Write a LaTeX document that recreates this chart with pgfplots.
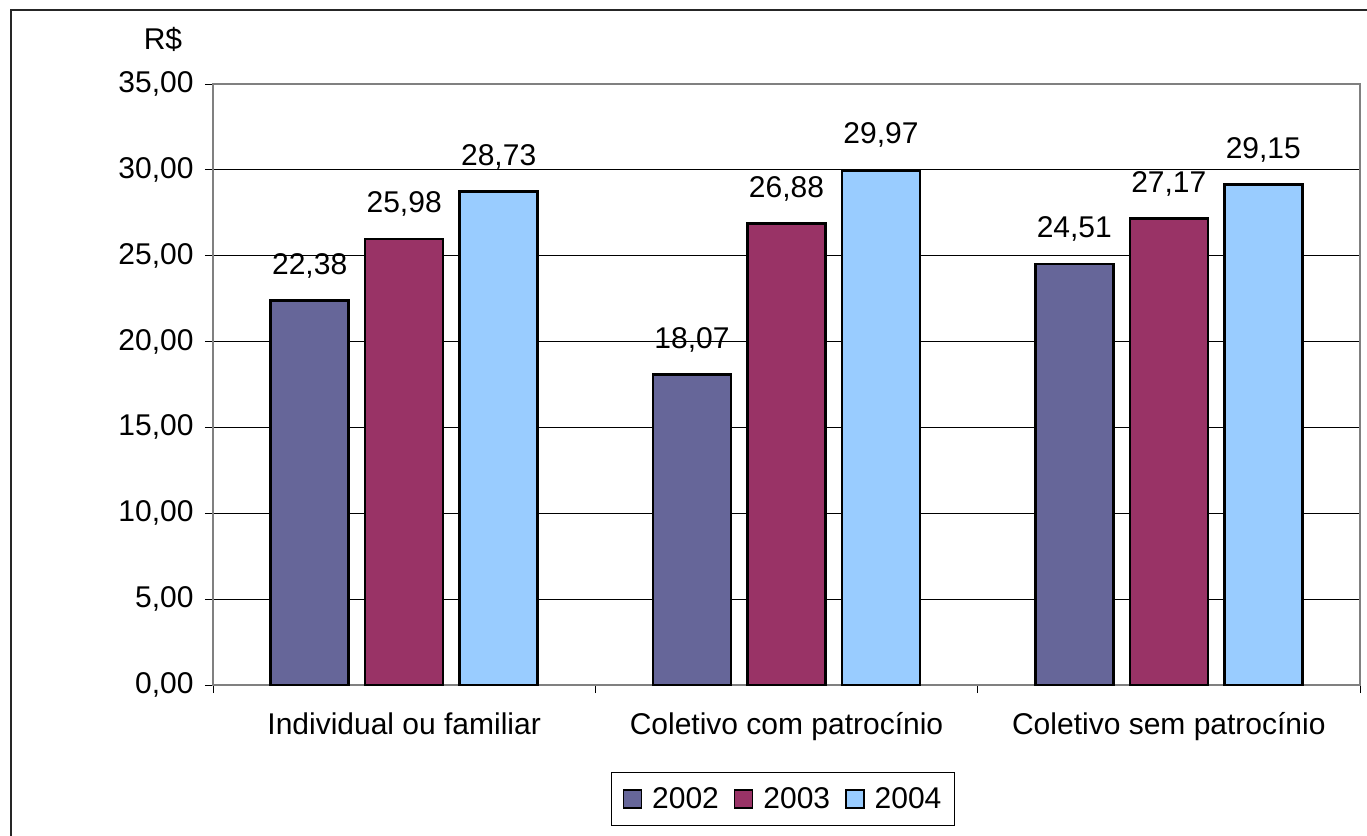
\documentclass[border=0pt]{standalone}
\usepackage{pgfplots}
\pgfplotsset{compat=1.18}
\usepackage{fontspec}
\setmainfont{Liberation Sans}
\definecolor{c2002}{HTML}{666699}
\definecolor{c2003}{HTML}{993366}
\definecolor{c2004}{HTML}{99CCFF}
\newcommand{\cf}{\fontsize{30bp}{35bp}\selectfont}
\pgfplotsset{sqlegend/.style={legend image code/.code={\draw[##1,draw=black,line width=1.5bp] (0bp,-9bp) rectangle (18bp,9bp);}}}
\begin{document}
\begin{tikzpicture}
\useasboundingbox (-213bp,-151bp) rectangle (1154bp,685bp);
\draw[line width=1.5bp, black!85] (-202bp,-170bp) -- (-202bp,675bp) -- (1170bp,675bp);
\begin{axis}[
  scale only axis, width=1147bp, height=601bp,
  ymin=0, ymax=35, ytick={0,5,...,35},
  xmin=-0.5, xmax=2.5,
  xtick={-0.5,0.5,1.5,2.5}, xticklabels={},
  extra x ticks={0,1,2},
  extra x tick labels={Individual ou familiar, Coletivo com patrocínio, Coletivo sem patrocínio},
  extra x tick style={major tick length=0pt},
  ybar=16.5bp, bar width=78bp,
  ymajorgrids, major grid style={black, line width=0.8bp},
  axis line style={gray, line width=1.5bp},
  tick align=outside, major tick length=8bp,
  tick style={black, line width=0.8bp},
  xtick pos=bottom, ytick pos=left,
  /pgf/number format/use comma,
  /pgf/number format/fixed,
  /pgf/number format/fixed zerofill,
  /pgf/number format/precision=2,
  /pgf/number format/assume math mode=true,
  ticklabel style={font=\cf},
  yticklabel style={xshift=-8bp},
  xticklabel style={yshift=-24bp},
  nodes near coords,
  nodes near coords style={font=\cf, anchor=south, yshift=18bp},
  legend columns=3,
  legend style={at={(0.497,-0.19)}, anchor=center, draw=black, line width=1bp, font=\cf,
    inner xsep=11bp, inner ysep=13bp,
    /tikz/every odd column/.append style={column sep=8bp},
    /tikz/every even column/.append style={column sep=13bp}},
]
\addplot[fill=c2002, draw=black, line width=2.5bp, sqlegend]
  coordinates {(0,22.38) (1,18.07) (2,24.51)};
\addplot[fill=c2003, draw=black, line width=2.5bp, sqlegend]
  coordinates {(0,25.98) (1,26.88) (2,27.17)};
\addplot[fill=c2004, draw=black, line width=2.5bp, sqlegend]
  coordinates {(0,28.73) (1,29.97) (2,29.15)};
\legend{2002,2003,2004}
\end{axis}
\node[font=\cf] at (-50bp,646bp) {R\$};
\end{tikzpicture}
\end{document}
